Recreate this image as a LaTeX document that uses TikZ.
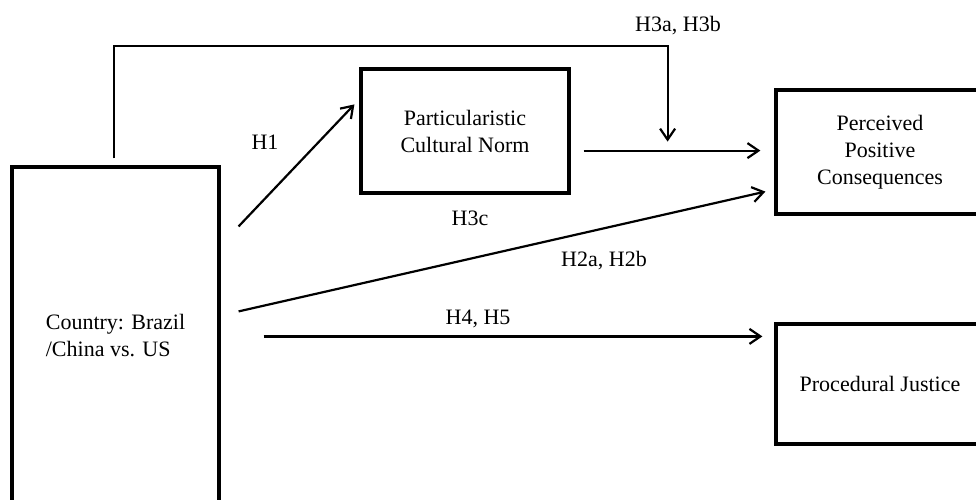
\documentclass[tikz,border=0pt]{standalone}
\usepackage{fontspec}
\setmainfont{Liberation Serif}
\usetikzlibrary{arrows.meta}
\begin{document}
\begin{tikzpicture}[x=1pt, y=-1pt,
  box/.style={draw, line width=3.2pt, inner sep=0pt, font=\fontsize{22}{27}\selectfont},
  link/.style={line width=2.2pt, -{Straight Barb[length=11pt,width=15pt,line width=2.2pt]}},
  hyp/.style={font=\fontsize{22}{27}\selectfont}]
\useasboundingbox (0,0) rectangle (976,500);
\node[box, minimum width=207, minimum height=338, align=left] (country) at (115.5,336) {Country: Brazil\\/China vs. US};
\node[box, minimum width=208, minimum height=124, align=center] (norm) at (465,131) {Particularistic\\Cultural Norm};
\node[box, minimum width=208, minimum height=124, align=center] (conseq) at (880,152) {Perceived\\Positive\\Consequences};
\node[box, minimum width=208, minimum height=120, align=center] (justice) at (880,384) {Procedural Justice};

\coordinate (mid) at ([shift={(97,-44)}]norm.south east);
\draw[link] ([shift={(13,-44)}]norm.south east) -- ([xshift=-14]conseq.west |- mid);
\draw[link, line width=2pt] ([shift={(-1.5,-7)}]country.north) -- ++(0,-112) -| ([yshift=9]mid);
\draw[link] ([shift={(18,61)}]country.north east) -- ([shift={(-5,37)}]norm.north west);
\draw[link] ([shift={(18,146)}]country.north east) -- ([shift={(-9,-24)}]conseq.south west);
\draw[link] ([shift={(43,171)}]country.north east) -- ([shift={(-12,14)}]justice.north west);

\node[hyp] (h1) at (265,142) {H1};
\node[hyp] (h3ab) at (678,26) {H3a, H3b};
\node[hyp] (h3c) at (470,218) {H3c};
\node[hyp] (h2ab) at (604,261) {H2a, H2b};
\node[hyp] (h45) at (478,319) {H4, H5};

\end{tikzpicture}
\end{document}
